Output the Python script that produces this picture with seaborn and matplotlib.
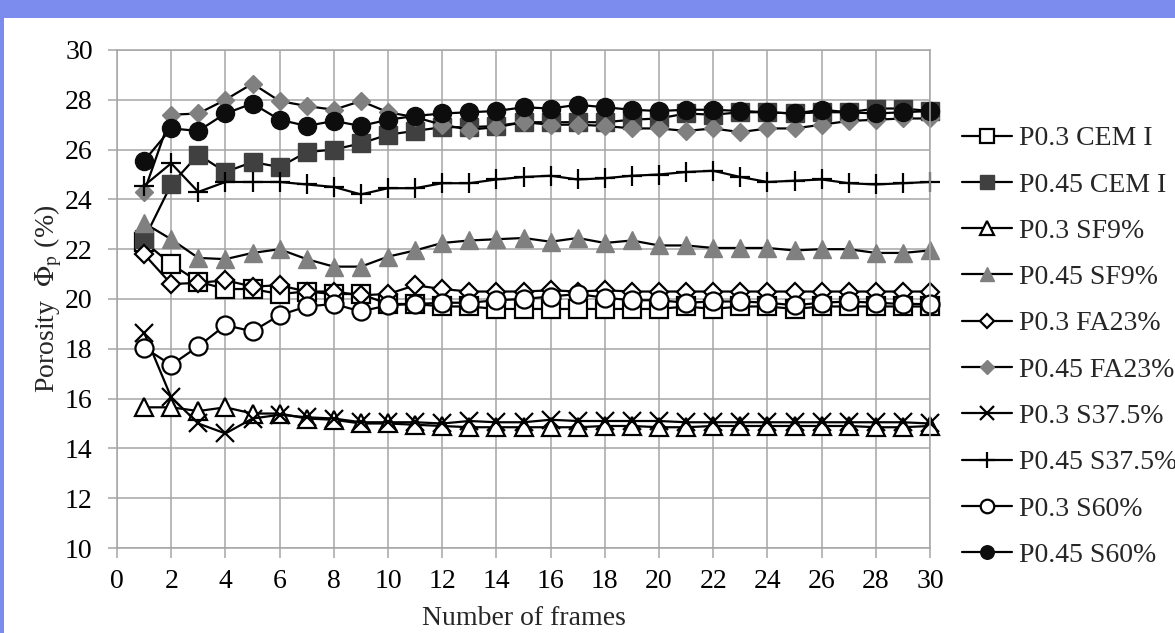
import numpy as np
import pandas as pd
import matplotlib
matplotlib.use("Agg")
import matplotlib.pyplot as plt
from matplotlib.patches import Rectangle
import seaborn as sns

# number of frames
frames = list(range(1, 31))

p03_cem = [22.3, 21.4, 20.7, 20.4, 20.4, 20.2, 20.3, 20.2, 20.2, 19.8, 19.8, 19.7, 19.7, 19.6, 19.6,
           19.6, 19.6, 19.6, 19.6, 19.6, 19.7, 19.6, 19.7, 19.7, 19.6, 19.7, 19.7, 19.7, 19.7, 19.7]
p045_cem = [22.4, 24.6, 25.8, 25.1, 25.5, 25.3, 25.9, 26.0, 26.25, 26.6, 26.75, 26.9, 26.9, 26.95, 27.1,
            27.1, 27.1, 27.1, 27.2, 27.25, 27.45, 27.4, 27.5, 27.5, 27.45, 27.5, 27.5, 27.65, 27.65, 27.55]
p03_sf = [15.65, 15.65, 15.5, 15.65, 15.4, 15.4, 15.2, 15.15, 15.0, 15.0, 14.95, 14.9, 14.85, 14.85, 14.85,
          14.85, 14.85, 14.9, 14.9, 14.85, 14.85, 14.9, 14.9, 14.9, 14.9, 14.9, 14.9, 14.85, 14.85, 14.9]
p045_sf = [23.05, 22.4, 21.65, 21.6, 21.85, 22.0, 21.6, 21.3, 21.3, 21.7, 21.95, 22.25, 22.35, 22.4, 22.45,
           22.3, 22.45, 22.25, 22.35, 22.15, 22.15, 22.05, 22.05, 22.05, 21.95, 22.0, 22.0, 21.85, 21.85, 21.95]
p03_fa = [21.8, 20.6, 20.65, 20.75, 20.5, 20.55, 20.3, 20.3, 20.15, 20.2, 20.55, 20.4, 20.3, 20.3, 20.3,
          20.35, 20.3, 20.35, 20.3, 20.3, 20.3, 20.3, 20.3, 20.3, 20.3, 20.3, 20.3, 20.3, 20.3, 20.3]
p045_fa = [24.3, 27.4, 27.45, 28.0, 28.65, 27.95, 27.75, 27.6, 27.95, 27.5, 27.3, 27.0, 26.8, 26.9, 27.1,
           27.0, 27.0, 26.95, 26.85, 26.85, 26.75, 26.85, 26.7, 26.85, 26.85, 27.0, 27.15, 27.2, 27.25, 27.25]
p03_s375 = [18.65, 16.05, 15.0, 14.6, 15.2, 15.35, 15.25, 15.2, 15.05, 15.05, 15.05, 15.0, 15.1, 15.05, 15.05,
            15.15, 15.1, 15.1, 15.1, 15.1, 15.05, 15.05, 15.05, 15.05, 15.05, 15.05, 15.05, 15.05, 15.05, 15.0]
p045_s375 = [24.55, 25.45, 24.3, 24.7, 24.7, 24.7, 24.6, 24.5, 24.2, 24.45, 24.45, 24.65, 24.65, 24.8, 24.9,
             24.95, 24.8, 24.85, 24.95, 25.0, 25.1, 25.15, 24.9, 24.7, 24.75, 24.8, 24.65, 24.6, 24.65, 24.7]
p03_s60 = [18.05, 17.35, 18.1, 18.95, 18.7, 19.35, 19.7, 19.8, 19.5, 19.75, 19.8, 19.85, 19.85, 19.95, 20.0,
           20.1, 20.2, 20.05, 19.95, 19.95, 19.85, 19.9, 19.9, 19.85, 19.75, 19.85, 19.9, 19.85, 19.8, 19.8]
p045_s60 = [25.55, 26.85, 26.75, 27.45, 27.85, 27.2, 26.95, 27.15, 26.95, 27.2, 27.35, 27.45, 27.5, 27.55, 27.7,
            27.65, 27.8, 27.7, 27.6, 27.55, 27.6, 27.6, 27.55, 27.5, 27.45, 27.6, 27.5, 27.45, 27.5, 27.55]

labels = ["P0.3 CEM I", "P0.45 CEM I", "P0.3 SF9%", "P0.45 SF9%", "P0.3 FA23%",
          "P0.45 FA23%", "P0.3 S37.5%", "P0.45 S37.5%", "P0.3 S60%", "P0.45 S60%"]
series = [p03_cem, p045_cem, p03_sf, p045_sf, p03_fa, p045_fa, p03_s375, p045_s375, p03_s60, p045_s60]

# marker styles: (marker, size, face, edge)
styles = [
    ("s", 12.5, "white", "black"),
    ("s", 12.5, "#404040", "#404040"),
    ("^", 13.5, "white", "black"),
    ("^", 13.5, "#808080", "#808080"),
    ("D", 9.5, "white", "black"),
    ("D", 9.5, "#808080", "#808080"),
    ("x", 13, "black", "black"),
    ("+", 15, "black", "black"),
    ("o", 13, "white", "black"),
    ("o", 13, "#0d0d0d", "#0d0d0d"),
]

sns.set_style("white")
plt.rcParams["font.family"] = ["Liberation Serif", "DejaVu Serif"]
plt.rcParams["mathtext.fontset"] = "stix"

fig = plt.figure(figsize=(11.75, 6.33), dpi=100, facecolor="#7b8cee")
fig.patches.append(Rectangle((4 / 1175, 0), 1, (633 - 18) / 633, transform=fig.transFigure,
                             facecolor="white", edgecolor="none", zorder=-5))
ax = fig.add_axes([117 / 1175, (633 - 548) / 633, (930 - 117) / 1175, (548 - 50) / 633])
ax.set_facecolor("none")

for lab, vals, (mk, ms, fc, ec) in zip(labels, series, styles):
    df = pd.DataFrame({"frames": frames, "porosity": vals})
    sns.lineplot(data=df, x="frames", y="porosity", ax=ax, color="black", linewidth=1.6,
                 marker=mk, markersize=ms, markerfacecolor=fc, markeredgecolor=ec,
                 markeredgewidth=1.6 if fc == "white" or mk in "x+" else 1.0,
                 label=lab, clip_on=False)

ax.set_xlim(0, 30)
ax.set_ylim(10, 30)
ax.set_xticks(np.arange(0, 31, 2))
ax.set_yticks(np.arange(10, 31, 2))
ax.grid(True, color="#a6a6a6", linewidth=1.1)
for sp in ax.spines.values():
    sp.set_color("#a6a6a6")
    sp.set_linewidth(1.1)
ax.tick_params(axis="both", labelsize=20, colors="#a6a6a6", labelcolor="black", width=1.1)
ax.tick_params(axis="x", length=7, pad=8, direction="out", bottom=True)
ax.tick_params(axis="y", length=6.5, pad=11, direction="out", left=True)
ax.set_xlabel("Number of frames", fontsize=20, labelpad=9)
ax.set_ylabel(r"Porosity  $\Phi_\mathrm{p}$ (%)", fontsize=20, labelpad=1)

ax.legend(loc="center left", bbox_to_anchor=(962 / 1175, 0.452), bbox_transform=fig.transFigure,
          frameon=False, fontsize=20, handlelength=1.8, handletextpad=0.25,
          labelspacing=0.75, borderpad=0, borderaxespad=0, markerscale=0.75)

fig.savefig("out.png", dpi=100, facecolor=fig.get_facecolor())
